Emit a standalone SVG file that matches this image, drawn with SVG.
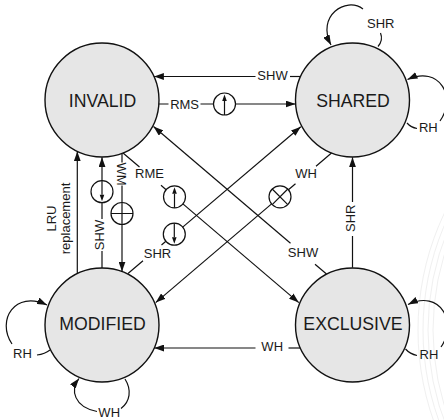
<svg xmlns="http://www.w3.org/2000/svg" xmlns:xlink="http://www.w3.org/1999/xlink" width="444" height="420" viewBox="0 0 444 420">
<style>
.node{fill:#e6e6e6;stroke:#111;stroke-width:1.4}
.st{font-family:"Liberation Sans",Arial,sans-serif;font-size:17.7px;fill:#1a1a1a;text-anchor:middle}
.lb{font-family:"Liberation Sans",Arial,sans-serif;font-size:13px;fill:#1a1a1a;text-anchor:middle}
.ln{fill:none;stroke:#111;stroke-width:1.2}
.ar{marker-end:url(#arr)}
.sig{fill:#fff;stroke:#111;stroke-width:1.2}
.bg{fill:none;stroke:#f0f0f0;stroke-width:1}
</style>
<defs>
<marker id="arr" viewBox="0 0 10 7" refX="10" refY="3.5" markerWidth="10" markerHeight="7" markerUnits="userSpaceOnUse" orient="auto"><path d="M0,0 L10,3.5 L0,7 Z" fill="#111"/></marker>
<g id="up"><circle r="11" class="sig"/><path d="M0,11 V-3" class="ln"/><path d="M-2.3,-3 L0,-9.5 L2.3,-3 Z" fill="#111"/></g>
<g id="down"><circle r="11" class="sig"/><path d="M0,-11 V3" class="ln"/><path d="M-2.3,3 L0,9.5 L2.3,3 Z" fill="#111"/></g>
<g id="plus"><circle r="11" class="sig"/><path d="M-11,0 H11 M0,-11 V11" class="ln"/></g>
<g id="cross"><circle r="11" class="sig"/><path d="M-7.8,-7.8 L7.8,7.8 M-7.8,7.8 L7.8,-7.8" class="ln"/></g>
</defs>
<g id="background">
<circle class="bg" cx="690" cy="330" r="272"/>
<circle class="bg" cx="690" cy="330" r="267"/>
<circle class="bg" cx="690" cy="330" r="262"/>
<circle class="bg" cx="690" cy="330" r="257"/>
</g>
<g id="node-invalid"><circle class="node" cx="102" cy="100" r="57"/><text class="st" x="102.5" y="107.3">INVALID</text></g>
<g id="node-shared"><circle class="node" cx="352.5" cy="100" r="57"/><text class="st" x="353" y="107.3">SHARED</text></g>
<g id="node-modified"><circle class="node" cx="102" cy="325" r="57"/><text class="st" x="102.5" y="330">MODIFIED</text></g>
<g id="node-exclusive"><circle class="node" cx="352.5" cy="325" r="57"/><text class="st" x="353" y="330">EXCLUSIVE</text></g>
<g id="connectors">
<g id="c-shw-top"><path class="ln" d="M300.6,76.5 H290"/><path class="ln ar" d="M255.5,76.5 H153.9"/><text class="lb" x="272.5" y="80">SHW</text></g>
<g id="c-rms"><path class="ln" d="M158.9,104 H168.5 M200.5,104 H213.5"/><use xlink:href="#up" x="224.5" y="104"/><path class="ln ar" d="M235.5,104 H295.6"/><text class="lb" x="184.6" y="108.5">RMS</text></g>
<g id="c-shw-diag"><path class="ln" d="M326.5,274 L315,264.2"/><path class="ln ar" d="M290.5,243.3 L153.5,126.5"/><text class="lb" x="303" y="257.3">SHW</text></g>
<g id="c-rme"><path class="ln" d="M123,153 L139.5,167 M161,185.3 L166.1,189.7"/><use xlink:href="#up" x="174.5" y="196.8"/><path class="ln ar" d="M182.9,203.9 L298.8,302.6"/><text class="lb" x="149.5" y="178">RME</text></g>
<g id="c-shr-diag"><path class="ln" d="M128,273.5 L143,260.8 M161.5,245 L165.9,241.3"/><use xlink:href="#down" x="174.3" y="234.2"/><path class="ln ar" d="M182.7,227.1 L300.8,126.7"/><text class="lb" x="157.5" y="257.5">SHR</text></g>
<g id="c-wh-diag"><path class="ln" d="M331.5,153 L316,166.2 M295.5,183.7 L288.4,189.7"/><use xlink:href="#cross" x="280" y="196.8"/><path class="ln ar" d="M271.6,203.9 L155.7,302.6"/><text class="lb" x="306" y="178">WH</text></g>
<g id="c-lru"><path class="ln ar" d="M77.3,273.6 V151.4"/><text class="lb" transform="translate(55.5,218.5) rotate(-90)">LRU</text><text class="lb" transform="translate(70.2,218.5) rotate(-90)">replacement</text></g>
<g id="c-shw-vert"><path class="ln" d="M102,268 V251 M102,219 V202.7"/><use xlink:href="#down" x="102" y="191.7"/><path class="ln ar" d="M102,180.7 V157.2"/><text class="lb" transform="translate(103.5,235) rotate(-90)">SHW</text></g>
<g id="c-wm"><path class="ln" d="M122,153.4 V162.5 M122,185.5 V202.5"/><use xlink:href="#plus" x="122" y="213.5"/><path class="ln ar" d="M122,224.5 V271.6"/><text class="lb" transform="translate(117.4,174) rotate(90)">WM</text></g>
<g id="c-wh-bottom"><path class="ln" d="M300.3,348 H288.5"/><path class="ln ar" d="M255.5,348 H154.2"/><text class="lb" x="272.2" y="351">WH</text></g>
<g id="c-shr-vert"><path class="ln" d="M352.5,267.7 V236"/><path class="ln ar" d="M352.5,202 V157.3"/><text class="lb" transform="translate(355.3,218.3) rotate(-90)">SHR</text></g>
<g id="loop-shared-shr"><path class="ln ar" d="M363,9 C346,-4 316,16 331,45"/><path class="ln" d="M380.5,33 C382.5,38 381,43 378,46.5"/><text class="lb" x="380.8" y="28.3">SHR</text></g>
<g id="loop-shared-rh"><path class="ln ar" d="M440,121 C457,97 439.5,65 407.5,79.5"/><path class="ln" d="M407,123 Q411,127.5 417,128.5"/><text class="lb" x="428.3" y="132">RH</text></g>
<g id="loop-exclusive-rh"><path class="ln ar" d="M441,347 C458,322 440,289 408,304.5"/><path class="ln" d="M405.5,349 Q410,354 417,355.5"/><text class="lb" x="429" y="358.5">RH</text></g>
<g id="loop-modified-rh"><path class="ln ar" d="M12,344 C-4,320 15,290 47,305"/><path class="ln" d="M37,355 Q45,354 50,350"/><text class="lb" x="22.5" y="357.5">RH</text></g>
<g id="loop-modified-wh"><path class="ln ar" d="M97,411.5 C74,407 70,390 79,378.5"/><path class="ln" d="M121,408.5 C130,402 132,390 125,379"/><text class="lb" x="109.2" y="416.5">WH</text></g>
</g>
</svg>
